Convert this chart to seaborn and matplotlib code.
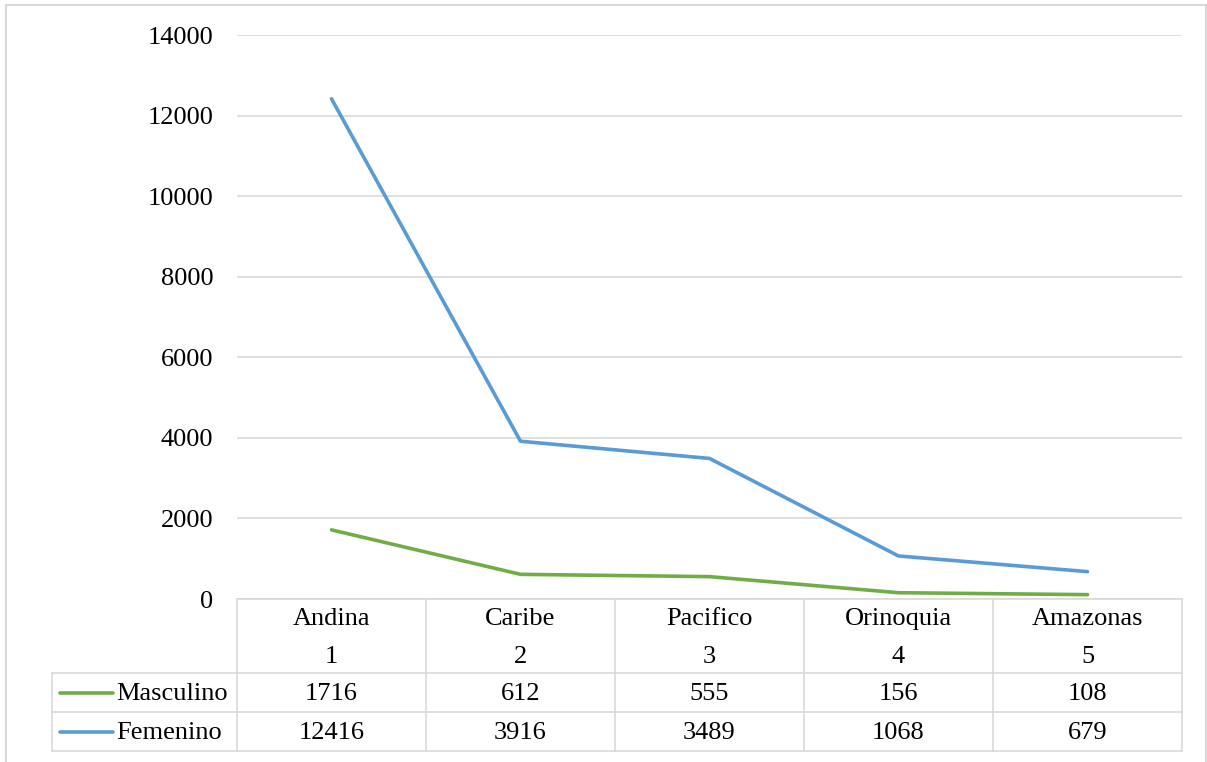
import numpy as np
import pandas as pd
import matplotlib
matplotlib.use("Agg")
import matplotlib.pyplot as plt
import seaborn as sns
from matplotlib.lines import Line2D
from matplotlib.patches import Rectangle

# data ----
regions = ["Andina", "Caribe", "Pacifico", "Orinoquia", "Amazonas"]
region_ids = [1, 2, 3, 4, 5]
masculino = [1716, 612, 555, 156, 108]
femenino = [12416, 3916, 3489, 1068, 679]
series_names = ["Masculino", "Femenino"]
series_colors = ["#70AD47", "#5B9BD5"]
y_ticks = [0, 2000, 4000, 6000, 8000, 10000, 12000, 14000]

df = pd.DataFrame({
    "pos": list(range(len(regions))) * 2,
    "value": masculino + femenino,
    "serie": [series_names[0]] * len(regions) + [series_names[1]] * len(regions),
})

sns.set_style("white")
plt.rcParams["font.family"] = ["Liberation Serif", "DejaVu Serif"]
plt.rcParams["text.color"] = "black"
plt.rcParams["ytick.color"] = "black"
plt.rcParams["ytick.labelcolor"] = "black"

W, H = 1207, 762
fig = plt.figure(figsize=(W / 100, H / 100), dpi=100)

def fx(x):
    return x / W

def fy(y):
    return 1 - y / H

grid_col = "#d9d9d9"
fs = 19

# plot area in pixels
left, right, top, bottom = 237, 1182, 35, 599
ax = fig.add_axes([fx(left), fy(bottom), fx(right) - fx(left), fy(top) - fy(bottom)])

sns.lineplot(data=df, x="pos", y="value", hue="serie", palette=series_colors,
             hue_order=series_names, linewidth=2.6, legend=False, ax=ax)
ax.set_xlim(-0.5, len(regions) - 0.5)
ax.set_ylim(0, 14000)
ax.set_yticks(y_ticks)
ax.set_yticklabels([str(t) for t in y_ticks], fontsize=fs, color="black")
ax.set_xticks([])
ax.set_xlabel("")
ax.set_ylabel("")
ax.tick_params(axis="y", length=0, pad=17)
ax.grid(axis="y", color=grid_col, linewidth=1.2)
for s in ax.spines.values():
    s.set_visible(False)

# data table below the plot ----
col_w = (right - left) / len(regions)
row_head = 673
row_m = 712
row_f = 751
leg_left = 52
lw = 1.2

def hline(x0, x1, y):
    fig.add_artist(Line2D([fx(x0), fx(x1)], [fy(y), fy(y)], color=grid_col, lw=lw,
                          transform=fig.transFigure))

def vline(x, y0, y1):
    fig.add_artist(Line2D([fx(x), fx(x)], [fy(y0), fy(y1)], color=grid_col, lw=lw,
                          transform=fig.transFigure))

hline(left, right, bottom)
hline(leg_left, right, row_head)
hline(leg_left, right, row_m)
hline(leg_left, right, row_f)
for i in range(len(regions) + 1):
    vline(left + i * col_w, bottom, row_f)
vline(leg_left, row_head, row_f)

for i, (name, rid) in enumerate(zip(regions, region_ids)):
    cx = left + (i + 0.5) * col_w
    fig.text(fx(cx), fy(619), name, ha="center", va="center", fontsize=fs)
    fig.text(fx(cx), fy(657), str(rid), ha="center", va="center", fontsize=fs)
    fig.text(fx(cx), fy(694), str(masculino[i]), ha="center", va="center", fontsize=fs)
    fig.text(fx(cx), fy(733), str(femenino[i]), ha="center", va="center", fontsize=fs)

for name, color, y in zip(series_names, series_colors, [694, 733]):
    fig.add_artist(Line2D([fx(60), fx(113)], [fy(y - 1), fy(y - 1)], color=color, lw=2.6,
                          transform=fig.transFigure))
    fig.text(fx(116), fy(y), name, ha="left", va="center", fontsize=fs)

# outer chart border
fig.add_artist(Rectangle((fx(6), fy(770)), fx(1206) - fx(6), fy(5) - fy(770),
                         fill=False, edgecolor=grid_col, lw=1.5,
                         transform=fig.transFigure))

fig.savefig("out.png", dpi=100)
